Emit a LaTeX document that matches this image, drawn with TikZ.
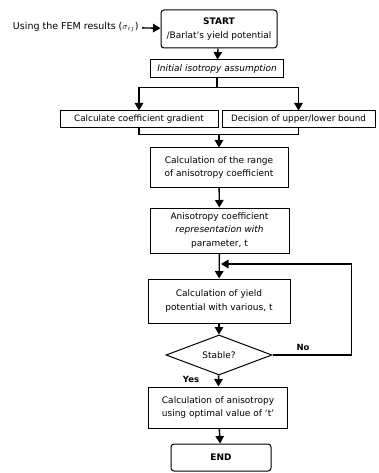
\documentclass[tikz,border=0pt]{standalone}
\usepackage{fontspec}
\setmainfont{DejaVu Sans}
\usetikzlibrary{arrows.meta,shapes.geometric}

\begin{document}
\begin{tikzpicture}[x=1pt,y=-1pt,
    box/.style={draw,line width=1pt,align=center,inner sep=1pt,font=\fontsize{9}{13.5}\selectfont},
    small/.style={font=\fontsize{8.8}{10}\selectfont},
    term/.style={box,rounded corners=3pt},
    lbl/.style={font=\fontsize{8.5}{10}\selectfont},
    flow/.style={line width=1.4pt,-{Triangle[length=7.5pt,width=8.5pt]}},
    link/.style={line width=1.4pt}]
    \useasboundingbox (0,0) rectangle (378,473);
    \coordinate (S) at (219,29);
    \coordinate (I) at (217,69);
    \coordinate (G) at (139,119.5);
    \coordinate (D) at (298.5,119.5);
    \coordinate (R) at (219,167.5);
    \coordinate (A) at (219.5,230.5);
    \coordinate (Y) at (219,301);
    \coordinate (T) at (219,355);
    \coordinate (C) at (218,407.5);
    \coordinate (E) at (221,457.5);

    \node[term,minimum width=116,minimum height=38] (start) at (S) {\textbf{START}\\/Barlat's yield potential};
    \node[lbl,font=\fontsize{9.5}{11}\selectfont,anchor=east] (fem) at (142,27) {Using the FEM results ($\sigma_{ij}$)};
    \node[box,minimum width=133,minimum height=18] (iso) at (I) {\textit{Initial isotropy assumption}};
    \node[box,small,minimum width=158,minimum height=17] (grad) at (G) {Calculate coefficient gradient};
    \node[box,small,minimum width=153,minimum height=17] (bound) at (D) {Decision of upper/lower bound};
    \node[box,minimum width=138,minimum height=39] (range) at (R) {Calculation of the range\\of anisotropy coefficient};
    \node[box,minimum width=139,minimum height=45] (aniso) at (A) {Anisotropy coefficient\\\textit{representation with}\\parameter, t};
    \node[box,minimum width=142,minimum height=44] (yield) at (Y) {Calculation of yield\\potential with various, t};
    \node[box,diamond,aspect=2.6,inner sep=0pt,minimum width=106,minimum height=40] (stable) at (T) {Stable?};
    \node[box,minimum width=139,minimum height=41] (optim) at (C) {Calculation of anisotropy\\using optimal value of `t'};
    \node[term,minimum width=100,minimum height=27] (end) at (E) {\textbf{END}};

    \draw[flow] (fem) -- (start);
    \draw[flow] (start) -- (iso);
    % split into the two parallel boxes
    \draw[link] (iso.south) -- ++(0,9) coordinate (bus);
    \draw[link] (grad.north |- bus) -- (bound.north |- bus);
    \draw[flow] (grad.north |- bus) -- (grad.north);
    \draw[flow] (bound.north |- bus) -- (bound.north);
    % join them again
    \draw[link] (grad.south) -- ++(0,6) coordinate (join) -| (bound.south);
    \draw[flow] (range.north |- join) -- (range.north);
    \draw[flow] (range) -- (aniso);
    \draw[flow] (aniso) -- (yield);
    \draw[flow] (yield) -- (stable);
    \draw[flow] (stable) -- (optim);
    \draw[flow] (optim) -- (end);
    % loop back when not stable
    \coordinate (back) at (221,264);
    \draw[flow] (stable.east) -- ++(79,0) |- (back);
    \node[lbl] (no) at (303,347) {\textbf{No}};
    \node[lbl] (yes) at (191,379) {\textbf{Yes}};
\end{tikzpicture}
\end{document}
